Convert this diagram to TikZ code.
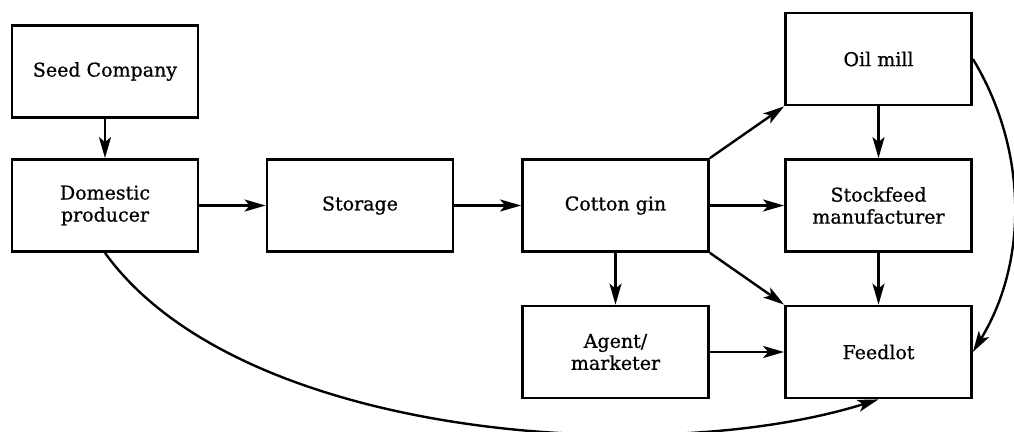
\documentclass[tikz,border=0pt]{standalone}
\usepackage{fontspec}
\setmainfont{DejaVu Serif}
\newfontfamily\boxfont{DejaVu Serif}[FakeBold=0.8]
\usetikzlibrary{arrows.meta}

\begin{document}
\begin{tikzpicture}[x=1pt,y=-1pt,
  box/.style={draw, line width=2.8pt, rectangle, minimum width=186pt,
    minimum height=92pt, inner sep=0pt, align=center,
    font=\boxfont\fontsize{19}{22}\selectfont},
  flow/.style={line width=2.4pt,
    -{Stealth[length=21pt,width=12pt,inset=5pt]}},
]
\useasboundingbox (0,0) rectangle (1014,431);

% stages of the chain
\node[box] (seed)  at (105,71.5)   {Seed Company};
\node[box] (dom)   at (105,205.5)  {Domestic\\producer};
\node[box] (stor)  at (360,205.5)  {Storage};
\node[box] (gin)   at (615.5,205.5){Cotton gin};
\node[box] (oil)   at (878.5,59)   {Oil mill};
\node[box] (stock) at (878.5,205.5){Stockfeed\\manufacturer};
\node[box] (agent) at (615.5,352)  {Agent/\\marketer};
\node[box] (feed)  at (878.5,352)  {Feedlot};

% straight flows
\draw[flow] (seed) -- (dom);
\draw[flow] (dom) -- (stor);
\draw[flow] (stor) -- (gin);
\draw[flow] (gin.north east) -- (oil.south west);
\draw[flow] (gin) -- (stock);
\draw[flow] (gin.south east) -- (feed.north west);
\draw[flow] (gin) -- (agent);
\draw[flow] (oil) -- (stock);
\draw[flow] (stock) -- (feed);
\draw[flow] (agent) -- (feed);

% curved flows
\draw[flow] (oil.east) .. controls (1028,150) and (1028,262) .. (feed.east);
\draw[flow] (dom.south) .. controls (240,440) and (660,468) .. (feed.south);
\end{tikzpicture}
\end{document}
